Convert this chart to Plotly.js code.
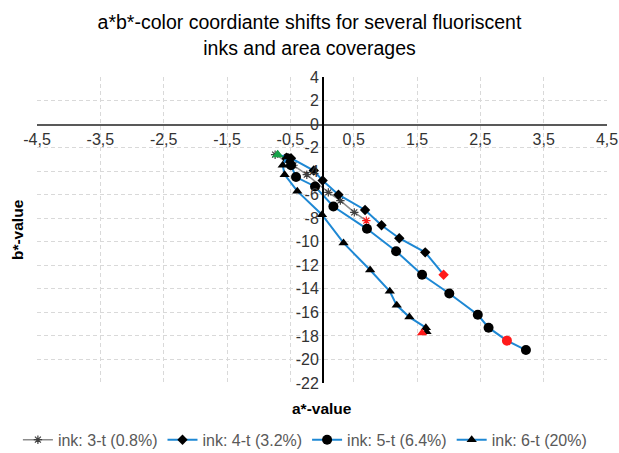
<!DOCTYPE html>
<html>
<head>
<meta charset="utf-8">
<script src="https://cdn.plot.ly/plotly-3.0.1.min.js"></script>
<style>html,body{margin:0;padding:0;background:#fff;}#chart{width:619px;height:453px;}</style>
</head>
<body>
<div id="chart"></div>
<script>
// ---- data ----
const seriesNames = ['ink: 3-t (0.8%)', 'ink: 4-t (3.2%)', 'ink: 5-t (6.4%)', 'ink: 6-t (20%)'];

const a3 = [-0.74, -0.45, -0.24, 0.10, 0.29, 0.51, 0.70];
const b3 = [-2.6, -3.5, -4.3, -5.8, -6.5, -7.5, -8.2];

const a4 = [-0.49, -0.13, 0.01, 0.26, 0.68, 0.94, 1.22, 1.63, 1.92];
const b4 = [-2.9, -3.95, -4.8, -6.0, -7.3, -8.6, -9.7, -10.9, -12.8];

const a5 = [-0.55, -0.49, -0.41, -0.11, 0.18, 0.71, 1.17, 1.58, 2.01, 2.46, 2.63, 2.92, 3.22];
const b5 = [-2.9, -3.5, -4.5, -5.3, -7.0, -8.9, -10.8, -12.8, -14.4, -16.2, -17.3, -18.4, -19.2];

const a6 = [-0.70, -0.56, -0.62, -0.59, -0.39, 0.00, 0.34, 0.76, 1.07, 1.18, 1.38, 1.64, 1.65, 1.58];
const b6 = [-2.6, -2.8, -3.5, -4.3, -5.7, -7.7, -10.1, -12.4, -14.2, -15.4, -16.4, -17.3, -17.65, -17.75];

// indices of highlighted points (red) and start point (green)
const red3 = [6], red4 = [8], red5 = [11], red6 = [13];
const green6 = [0];

const xTickVals = [-4.5, -3.5, -2.5, -1.5, -0.5, 0.5, 1.5, 2.5, 3.5, 4.5];
const xTickText = ['-4,5', '-3,5', '-2,5', '-1,5', '-0,5', '0,5', '1,5', '2,5', '3,5', '4,5'];
const yTickVals = [4, 2, 0, -2, -4, -6, -8, -10, -12, -14, -16, -18, -20, -22];
const yTickText = ['4', '2', '0', '-2', '-4', '-6', '-8', '-10', '-12', '-14', '-16', '-18', '-20', '-22'];

// ---- styling ----
const FONT = 'Liberation Sans, Arial, sans-serif';
const BLUE = '#1E88D4';
const GRAY = '#8c8c8c';
function colors(n, reds, base) {
  const c = [];
  for (let i = 0; i < n; i++) c.push(reds.includes(i) ? '#ff1a1a' : base);
  return c;
}

const traces = [
  {x: a3, y: b3, name: seriesNames[0], mode: 'lines+markers', type: 'scatter',
   line: {color: GRAY, width: 1.5},
   marker: {symbol: 'asterisk-open', size: 7, color: colors(a3.length, red3, '#404040'),
            line: {width: 1.2, color: colors(a3.length, red3, '#404040')}}},
  {x: a4, y: b4, name: seriesNames[1], mode: 'lines+markers', type: 'scatter',
   line: {color: BLUE, width: 2},
   marker: {symbol: 'diamond', size: 8, color: colors(a4.length, red4, '#000')}},
  {x: a5, y: b5, name: seriesNames[2], mode: 'lines+markers', type: 'scatter',
   line: {color: BLUE, width: 2},
   marker: {symbol: 'circle', size: 10, color: colors(a5.length, red5, '#000')}},
  {x: a6, y: b6, name: seriesNames[3], mode: 'lines+markers', type: 'scatter',
   line: {color: BLUE, width: 2},
   marker: {symbol: 'triangle-up', size: 9, color: colors(a6.length, red6, '#000')}},
  {x: green6.map(i => a6[i]), y: green6.map(i => b6[i]), mode: 'markers', type: 'scatter',
   showlegend: false, hoverinfo: 'skip',
   marker: {symbol: 'triangle-up', size: 10, color: '#17a34a'}}
];

const tickFont = {family: FONT, size: 16, color: '#333333'};

const layout = {
  width: 619, height: 453,
  margin: {l: 37, r: 12, t: 77, b: 70, autoexpand: false},
  paper_bgcolor: '#fff', plot_bgcolor: '#fff',
  font: {family: FONT, color: '#404040'},
  title: {
    text: 'a*b*-color coordiante shifts for several fluoriscent<br>inks and area coverages',
    font: {family: FONT, size: 19.5, color: '#000'},
    x: 0.5, xref: 'container', xanchor: 'center',
    y: 0.935, yref: 'container', yanchor: 'top'
  },
  xaxis: {
    range: [-4.5, 4.5], tickmode: 'array', tickvals: xTickVals, ticktext: xTickText,
    anchor: 'free', position: 22 / 26, side: 'bottom',
    showline: true, linecolor: '#595959', linewidth: 1.5,
    showgrid: true, gridcolor: '#d9d9d9', griddash: '4px,3px', gridwidth: 1,
    zeroline: false, ticks: '', tickfont: tickFont, fixedrange: true
  },
  yaxis: {
    range: [-22, 4], tickmode: 'array', tickvals: yTickVals, ticktext: yTickText,
    anchor: 'free', position: 0.5, side: 'left',
    showline: true, linecolor: '#000', linewidth: 1.5,
    showgrid: true, gridcolor: '#d9d9d9', griddash: '4px,3px', gridwidth: 1,
    zeroline: false, ticks: '', tickfont: tickFont, fixedrange: true
  },
  showlegend: true,
  legend: {
    orientation: 'h', x: 0.47, xanchor: 'center', y: -0.13, yanchor: 'top',
    font: {family: FONT, size: 16, color: '#595959'},
    itemwidth: 30, tracegroupgap: 0
  },
  annotations: [
    {text: '<b>a*-value</b>', xref: 'paper', yref: 'paper', x: 0.5, y: -0.082,
     xanchor: 'center', yanchor: 'middle', showarrow: false,
     font: {family: FONT, size: 15.5, color: '#000'}},
    {text: '<b>b*-value</b>', xref: 'paper', yref: 'paper', x: -0.035, y: 0.5,
     xanchor: 'center', yanchor: 'middle', showarrow: false, textangle: -90,
     font: {family: FONT, size: 15.5, color: '#000'}}
  ]
};

Plotly.newPlot('chart', traces, layout, {displayModeBar: false, staticPlot: true});
</script>
</body>
</html>
